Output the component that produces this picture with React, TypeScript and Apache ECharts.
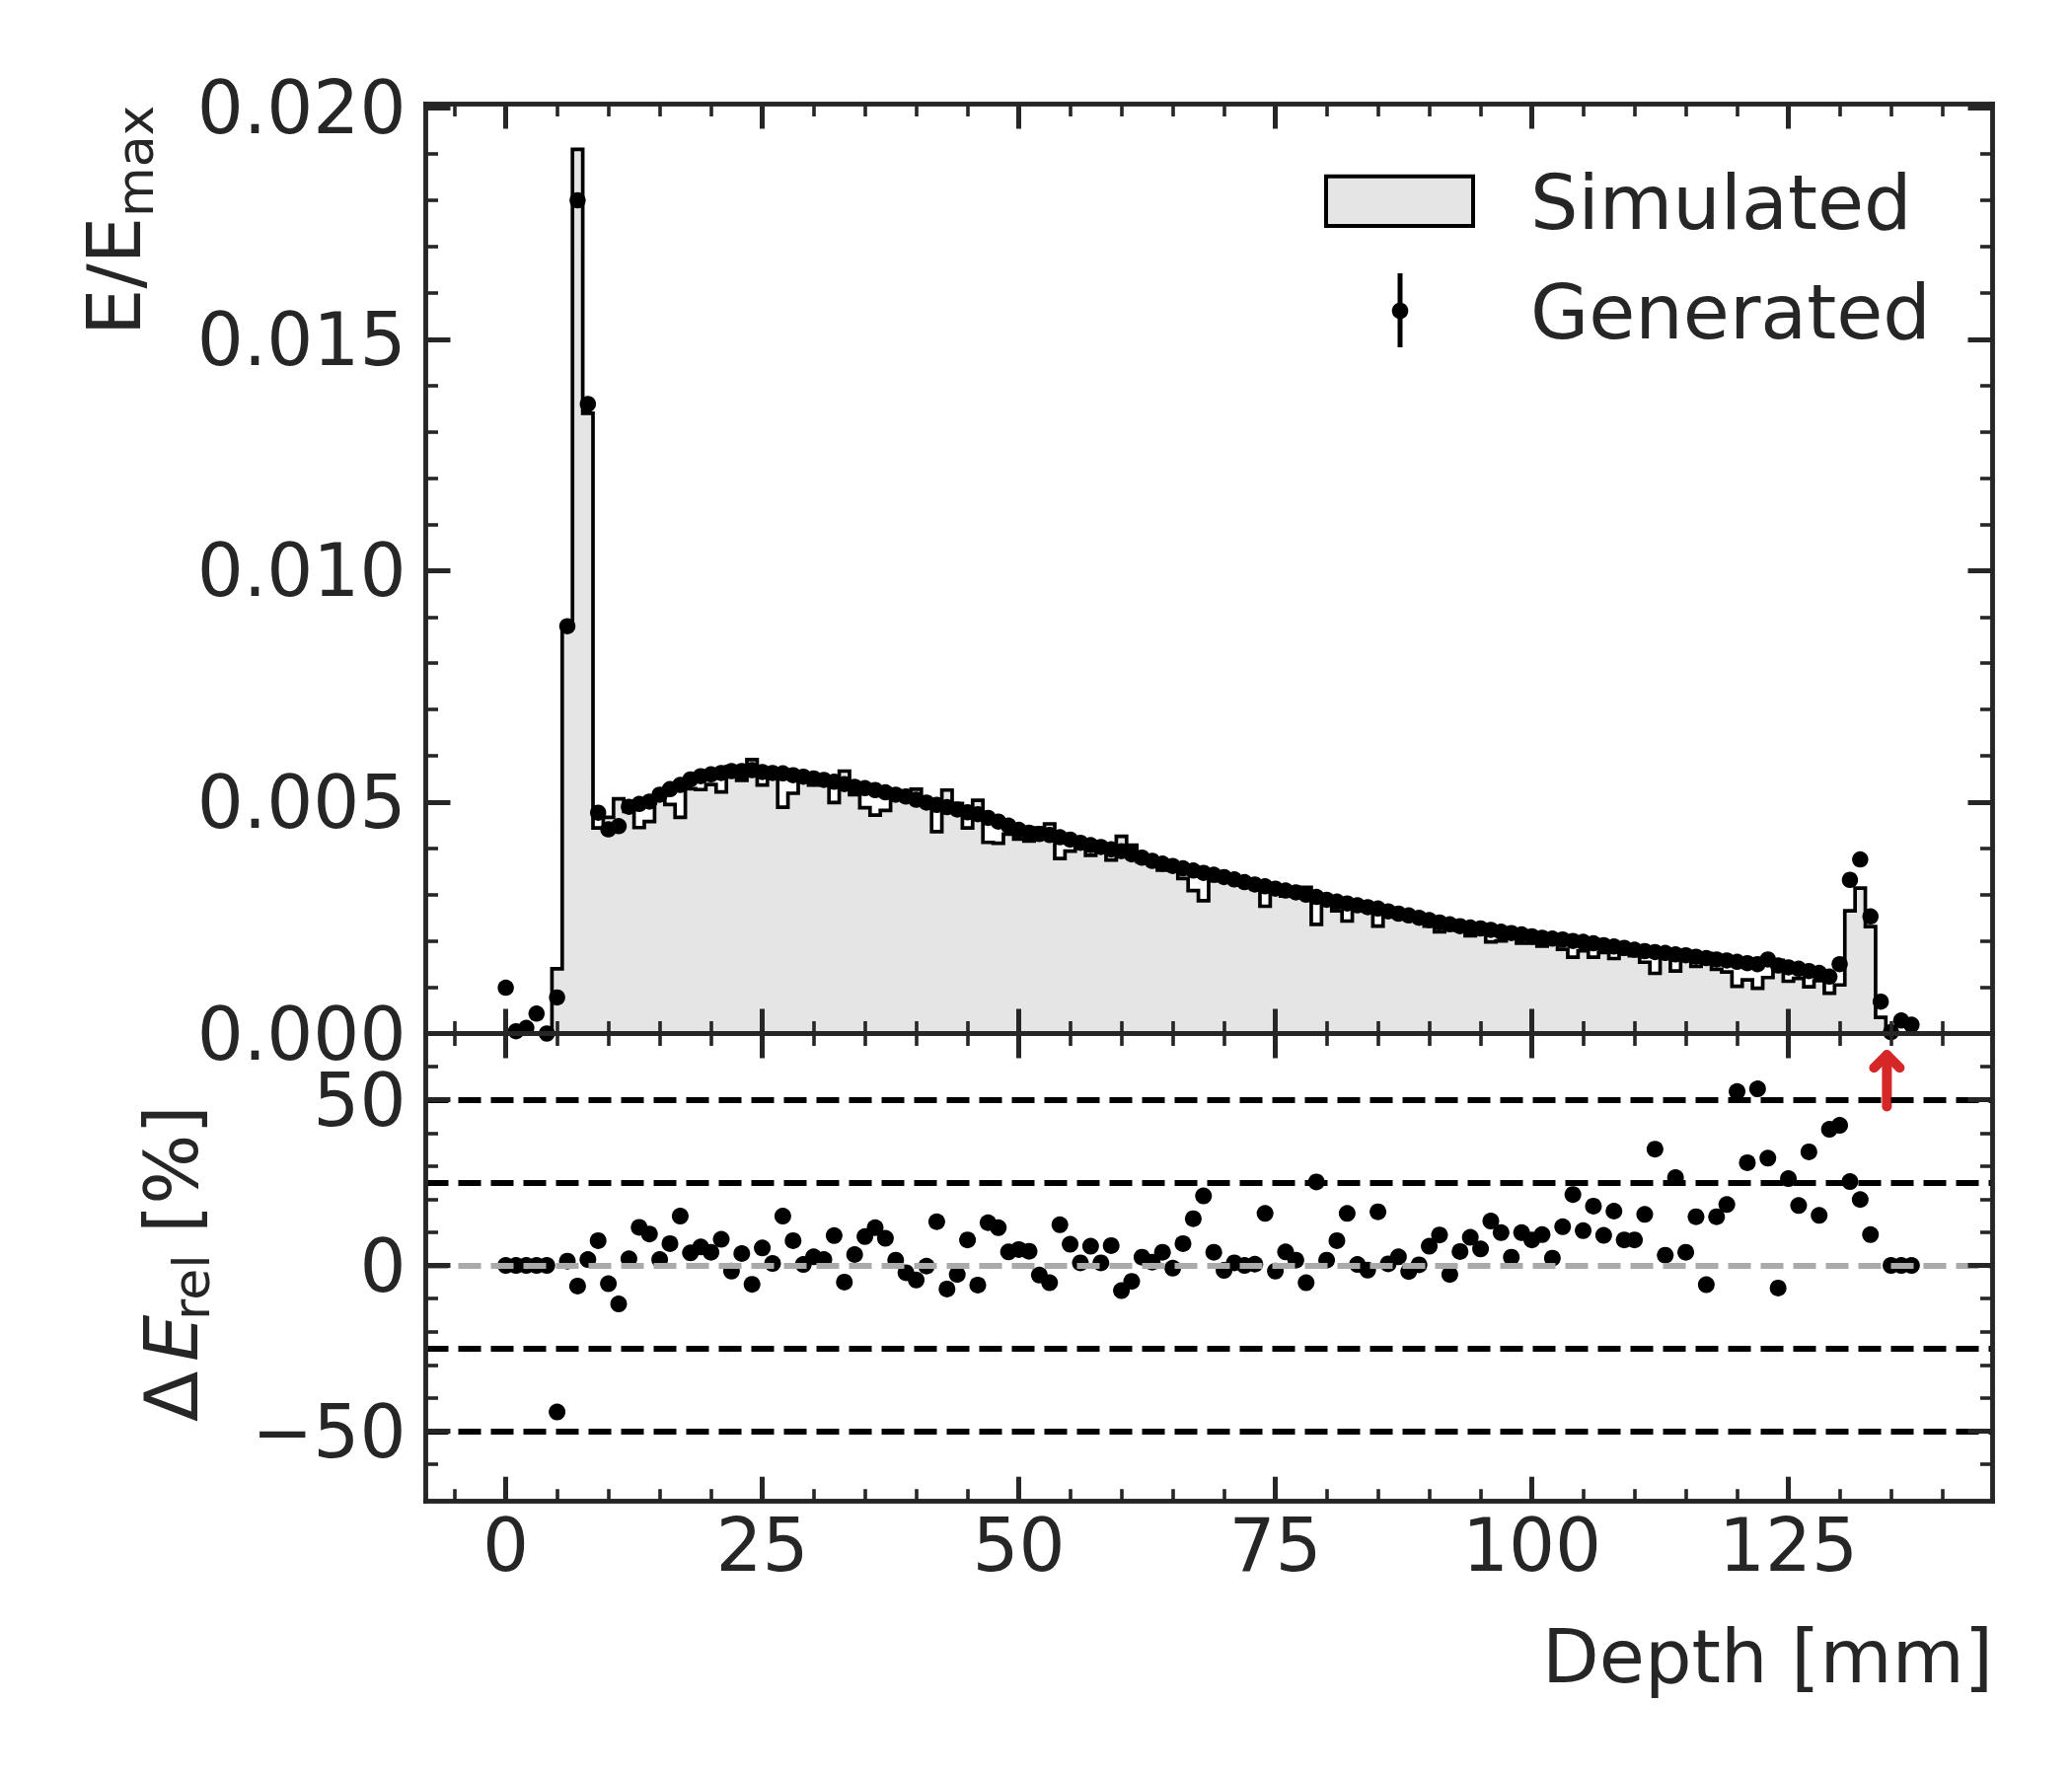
import React, { useEffect, useRef } from "react";
import * as echarts from "echarts";

// ---------- data ----------
const depthMm = [
  0, 1, 2, 3, 4, 5, 6, 7, 8, 9,
  10, 11, 12, 13, 14, 15, 16, 17, 18, 19,
  20, 21, 22, 23, 24, 25, 26, 27, 28, 29,
  30, 31, 32, 33, 34, 35, 36, 37, 38, 39,
  40, 41, 42, 43, 44, 45, 46, 47, 48, 49,
  50, 51, 52, 53, 54, 55, 56, 57, 58, 59,
  60, 61, 62, 63, 64, 65, 66, 67, 68, 69,
  70, 71, 72, 73, 74, 75, 76, 77, 78, 79,
  80, 81, 82, 83, 84, 85, 86, 87, 88, 89,
  90, 91, 92, 93, 94, 95, 96, 97, 98, 99,
  100, 101, 102, 103, 104, 105, 106, 107, 108, 109,
  110, 111, 112, 113, 114, 115, 116, 117, 118, 119,
  120, 121, 122, 123, 124, 125, 126, 127, 128, 129,
  130, 131, 132, 133, 134, 135, 136, 137,
];

const simulated = [
  0, 0, 0, 0, 0, 0.0014, 0.00877, 0.0191, 0.0134, 0.00444,
  0.00467, 0.00507, 0.0048, 0.00445, 0.00458, 0.00507, 0.00495, 0.00467, 0.00529, 0.00527,
  0.00538, 0.00522, 0.00577, 0.00547, 0.00592, 0.00537, 0.0056, 0.00489, 0.00519, 0.00553,
  0.00537, 0.00538, 0.00499, 0.00567, 0.00516, 0.00488, 0.00472, 0.00482, 0.00508, 0.00524,
  0.00528, 0.005, 0.00436, 0.00526, 0.00497, 0.00444, 0.00504, 0.00413, 0.00411, 0.00431,
  0.0042, 0.00416, 0.00444, 0.00453, 0.00378, 0.00394, 0.00409, 0.00385, 0.004, 0.00375,
  0.00426, 0.00407, 0.00371, 0.00369, 0.00353, 0.00365, 0.00335, 0.00309, 0.00287, 0.0033,
  0.00343, 0.0033, 0.00327, 0.00321, 0.00275, 0.00318, 0.00297, 0.003, 0.00316, 0.00236,
  0.00284, 0.00265, 0.00243, 0.00276, 0.00277, 0.00232, 0.00263, 0.00252, 0.0026, 0.0025,
  0.00232, 0.0022, 0.00243, 0.00223, 0.00211, 0.00216, 0.00198, 0.002, 0.00212, 0.00195,
  0.00195, 0.00189, 0.00201, 0.00182, 0.00165, 0.00179, 0.00165, 0.00175, 0.00162, 0.00172,
  0.00168, 0.00154, 0.0013, 0.00169, 0.00135, 0.00163, 0.00145, 0.00173, 0.00139, 0.00133,
  0.00102, 0.00116, 0.00098, 0.00121, 0.00158, 0.00113, 0.00119, 0.00101, 0.00114, 0.00087,
  0.00105, 0.00265, 0.00314, 0.00231, 0.00035, 0, 0, 0,
];

const generated = [
  0.00099, 0.00005, 0.00012, 0.00043, 0, 0.00078, 0.0088, 0.018, 0.0136, 0.00477,
  0.00441, 0.00448, 0.0049, 0.00496, 0.00501, 0.00516, 0.00528, 0.00537, 0.00549, 0.00556,
  0.0056, 0.00563, 0.00567, 0.00567, 0.00569, 0.00565, 0.00563, 0.00562, 0.00558, 0.00555,
  0.00551, 0.00548, 0.00544, 0.00539, 0.00533, 0.0053, 0.00526, 0.00521, 0.00516, 0.00512,
  0.00505, 0.00499, 0.00494, 0.00489, 0.00484, 0.00478, 0.00474, 0.00466, 0.00458, 0.00449,
  0.0044, 0.00434, 0.00431, 0.00429, 0.00424, 0.00419, 0.00412, 0.00407, 0.00403, 0.00398,
  0.00394, 0.00387, 0.0038, 0.00373, 0.00367, 0.00362, 0.00357, 0.00352, 0.00347, 0.00343,
  0.00338, 0.00333, 0.00327, 0.00322, 0.00318, 0.00313, 0.00309, 0.00305, 0.003, 0.00295,
  0.00289, 0.00285, 0.00281, 0.00277, 0.00273, 0.0027, 0.00264, 0.00259, 0.00255, 0.0025,
  0.00245, 0.0024, 0.00236, 0.00232, 0.00229, 0.00227, 0.00224, 0.0022, 0.00217, 0.00214,
  0.0021, 0.00207, 0.00205, 0.00203, 0.002, 0.00198, 0.00195, 0.00191, 0.00188, 0.00185,
  0.00181, 0.00178, 0.00176, 0.00174, 0.00171, 0.00169, 0.00166, 0.00163, 0.0016, 0.00158,
  0.00155, 0.00152, 0.0015, 0.0016, 0.00147, 0.00143, 0.0014, 0.00135, 0.00131, 0.00123,
  0.0015, 0.00332, 0.00376, 0.00253, 0.00069, 0.00003, 0.00028, 0.00019,
];

const residualPct = [
  0, 0, 0, 0, 0, -44.2, 1.3, -6.2, 1.8, 7.5,
  -5.5, -11.6, 2.0, 11.5, 9.5, 1.8, 6.6, 14.9, 3.8, 5.6,
  4.0, 7.9, -1.7, 3.6, -5.7, 5.3, 0.6, 14.9, 7.5, 0.3,
  2.6, 1.8, 9.0, -5.0, 3.3, 8.7, 11.4, 8.2, 1.6, -2.2,
  -4.4, -0.2, 13.2, -7.1, -2.7, 7.7, -5.9, 12.9, 11.4, 4.1,
  4.8, 4.3, -2.9, -5.2, 12.3, 6.4, 0.8, 5.8, 0.8, 6.0,
  -7.6, -4.8, 2.5, 1.0, 4.0, -0.8, 6.6, 14.1, 21.0, 4.0,
  -1.5, 0.8, 0, 0.4, 15.7, -1.7, 4.1, 1.6, -5.2, 25.2,
  1.6, 7.5, 15.7, 0.3, -1.4, 16.2, 0.5, 2.6, -1.8, 0.2,
  5.8, 9.2, -2.7, 4.2, 8.5, 5.0, 13.4, 9.9, 2.5, 9.9,
  7.7, 9.3, 2.2, 11.7, 21.4, 10.5, 17.9, 9.1, 16.4, 7.7,
  7.7, 15.4, 35.1, 3.1, 26.5, 4.0, 14.7, -5.8, 14.7, 18.4,
  52.5, 31.0, 53.3, 32.4, -6.8, 26.2, 18.1, 34.3, 15.1, 41.1,
  42.3, 25.3, 19.9, 9.3, 97, 0, 0, 0,
];

// ticks & reference levels
const xMajorTicks = [0, 25, 50, 75, 100, 125];
const xMinorTicks = [-5, 5, 10, 15, 20, 30, 35, 40, 45, 55, 60, 65, 70, 80, 85, 90, 95, 105, 110, 115, 120, 130, 135, 140];
const topMajorTicks = [0, 0.005, 0.01, 0.015, 0.02];
const topMinorTicks = [0.001, 0.002, 0.003, 0.004, 0.006, 0.007, 0.008, 0.009, 0.011, 0.012, 0.013, 0.014, 0.016, 0.017, 0.018, 0.019];
const resMajorTicks = [-50, 0, 50];
const resMinorTicks = [-60, -40, -30, -20, -10, 10, 20, 30, 40, 60];
const dashedLevels = [-50, -25, 25, 50];
const zeroLevel = 0;
const arrowSpan = [48, 63.5]; // overflow arrow, in % units
const arrowShift = 0.6; // arrow drawn slightly right of the overflow bin centre

// axis ranges
const X_MIN = -7.8;
const X_MAX = 144.9;
const TOP_MIN = 0;
const TOP_MAX = 0.02008;
const RES_MIN = -71.2;
const RES_MAX = 70;

// ---------- style ----------
const INK = "#262626";
const FONT = "DejaVu Sans";
const FS = 74;
const RED = "#d62728";

const GRID_L = 431.5;
const GRID_W = 1588;
const TOP_T = 105.5;
const TOP_H = 942;
const BOT_T = 1047.5;
const BOT_H = 474.2;

const MAJOR_LEN = 25;
const MINOR_LEN = 12.5;

function makeAxis(grid: number, position: string, min: number, max: number, ticks: number[], major: boolean, labels?: any) {
  return {
    type: "value",
    gridIndex: grid,
    position,
    min,
    max,
    z: 10,
    axisLine: { show: true, onZero: false, lineStyle: { color: INK, width: 4.5, cap: "square" } },
    axisTick: {
      show: true,
      inside: true,
      length: major ? MAJOR_LEN : MINOR_LEN,
      customValues: ticks,
      lineStyle: { color: INK, width: major ? 5 : 3.6 },
    },
    axisLabel: labels
      ? {
          show: true,
          customValues: ticks,
          fontFamily: FONT,
          fontSize: FS,
          color: INK,
          showMinLabel: true,
          showMaxLabel: true,
          ...labels,
        }
      : { show: false },
    splitLine: { show: false },
    axisPointer: { show: false },
  };
}

const fmtMinus = (v: number) => (v < 0 ? "\u2212" + Math.abs(v) : String(v));

export default function App() {
  const ref = useRef<HTMLDivElement>(null);

  useEffect(() => {
    document.body.style.margin = "0";
    const chart = echarts.init(ref.current!, null, { renderer: "svg", width: 2100, height: 1800 });

    const histLine: number[][] = [[depthMm[0] - 0.5, 0]];
    depthMm.forEach((d, i) => {
      histLine.push([d - 0.5, simulated[i]], [d + 0.5, simulated[i]]);
    });
    histLine.push([depthMm[depthMm.length - 1] + 0.5, 0]);

    const genPts = depthMm.map((d, i) => [d, generated[i]]);
    const resPts = depthMm.map((d, i) => [d, residualPct[i]]);
    const overflow = depthMm
      .map((d, i) => ({ d, r: residualPct[i] }))
      .filter((p) => p.r > RES_MAX)
      .map((p) => [p.d + arrowShift, arrowSpan[0], arrowSpan[1]]);

    const xAxes = [
      makeAxis(0, "bottom", X_MIN, X_MAX, xMajorTicks, true),
      makeAxis(0, "bottom", X_MIN, X_MAX, xMinorTicks, false),
      makeAxis(0, "top", X_MIN, X_MAX, xMajorTicks, true),
      makeAxis(0, "top", X_MIN, X_MAX, xMinorTicks, false),
      makeAxis(1, "bottom", X_MIN, X_MAX, xMajorTicks, true, { margin: 7, formatter: (v: number) => String(v) }),
      makeAxis(1, "bottom", X_MIN, X_MAX, xMinorTicks, false),
      makeAxis(1, "top", X_MIN, X_MAX, xMajorTicks, true),
      makeAxis(1, "top", X_MIN, X_MAX, xMinorTicks, false),
    ];
    const yAxes = [
      makeAxis(0, "left", TOP_MIN, TOP_MAX, topMajorTicks, true, { margin: 20, lineHeight: 56, formatter: (v: number) => v.toFixed(3) }),
      makeAxis(0, "left", TOP_MIN, TOP_MAX, topMinorTicks, false),
      makeAxis(0, "right", TOP_MIN, TOP_MAX, topMajorTicks, true),
      makeAxis(0, "right", TOP_MIN, TOP_MAX, topMinorTicks, false),
      makeAxis(1, "left", RES_MIN, RES_MAX, resMajorTicks, true, { margin: 20, lineHeight: 56, formatter: fmtMinus }),
      makeAxis(1, "left", RES_MIN, RES_MAX, resMinorTicks, false),
      makeAxis(1, "right", RES_MIN, RES_MAX, resMajorTicks, true),
      makeAxis(1, "right", RES_MIN, RES_MAX, resMinorTicks, false),
    ];

    const dash = [23, 10];

    const rotText = (text: string, x: number, y: number, size: number, extra: any = {}) => ({
      type: "text",
      x,
      y,
      rotation: Math.PI / 2,
      silent: true,
      style: {
        text,
        fontFamily: FONT,
        fontSize: size,
        fill: INK,
        align: "left",
        verticalAlign: "middle",
        ...extra,
      },
    });

    const option: any = {
      animation: false,
      backgroundColor: "#ffffff",
      textStyle: { fontFamily: FONT },
      grid: [
        { left: GRID_L, top: TOP_T, width: GRID_W, height: TOP_H, containLabel: false, outerBoundsMode: "none" },
        { left: GRID_L, top: BOT_T, width: GRID_W, height: BOT_H, containLabel: false, outerBoundsMode: "none" },
      ],
      xAxis: xAxes,
      yAxis: yAxes,
      series: [
        {
          name: "Simulated",
          type: "line",
          xAxisIndex: 0,
          yAxisIndex: 0,
          data: histLine,
          showSymbol: false,
          symbol: "none",
          z: 2,
          clip: true,
          lineStyle: { color: "#000000", width: 3.7, join: "miter" },
          areaStyle: { color: "#e5e5e5", opacity: 1 },
        },
        {
          name: "Generated",
          type: "scatter",
          xAxisIndex: 0,
          yAxisIndex: 0,
          data: genPts,
          symbol: "circle",
          symbolSize: 16.5,
          itemStyle: { color: "#000000", opacity: 1 },
          z: 3,
          clip: false,
        },
        {
          name: "levels",
          type: "line",
          xAxisIndex: 4,
          yAxisIndex: 4,
          data: [],
          z: 1,
          silent: true,
          markLine: {
            silent: true,
            symbol: ["none", "none"],
            label: { show: false },
            emphasis: { disabled: true },
            data: [
              { yAxis: zeroLevel, lineStyle: { color: "#aaaaaa", width: 6, type: dash } },
              ...dashedLevels.map((v) => ({ yAxis: v, lineStyle: { color: "#000000", width: 6, type: dash } })),
            ],
          },
        },
        {
          name: "Residual",
          type: "scatter",
          xAxisIndex: 4,
          yAxisIndex: 4,
          data: resPts,
          symbol: "circle",
          symbolSize: 17,
          itemStyle: { color: "#000000", opacity: 1 },
          z: 3,
          clip: true,
        },
        {
          name: "overflow",
          type: "custom",
          xAxisIndex: 4,
          yAxisIndex: 4,
          z: 4,
          clip: false,
          data: overflow,
          renderItem: (_params: any, api: any) => {
            const base = api.coord([api.value(0), api.value(1)]);
            const tip = api.coord([api.value(0), api.value(2)]);
            const h = 13;
            return {
              type: "group",
              children: [
                {
                  type: "line",
                  shape: { x1: base[0], y1: base[1], x2: tip[0], y2: tip[1] },
                  style: { stroke: RED, lineWidth: 10, lineCap: "round" },
                },
                {
                  type: "polyline",
                  shape: { points: [[tip[0] - h, tip[1] + h], [tip[0], tip[1]], [tip[0] + h, tip[1] + h]] },
                  style: { stroke: RED, fill: "none", lineWidth: 10, lineCap: "round", lineJoin: "round" },
                },
              ],
            };
          },
        },
      ],
      graphic: [
        // top y label: E/E_max
        rotText("E/E", 115.5, 340, 75),
        rotText("max", 137, 220, 52),
        // bottom y label: ΔE_rel [%]
        rotText("\u0394", 174, 1441, 75),
        rotText("E", 174, 1380, 75, { fontStyle: "italic" }),
        rotText("rel", 193.7, 1338, 52),
        rotText("[%]", 174, 1250, 75),
        // x label
        {
          type: "text",
          x: 2020,
          y: 1678.5,
          silent: true,
          style: { text: "Depth [mm]", fontFamily: FONT, fontSize: 75, fill: INK, align: "right", verticalAlign: "middle" },
        },
        // legend
        {
          type: "rect",
          silent: true,
          shape: { x: 1344, y: 178.7, width: 149, height: 50.3 },
          style: { fill: "#e5e5e5", stroke: "#000000", lineWidth: 4 },
        },
        {
          type: "text",
          x: 1551,
          y: 205,
          silent: true,
          style: { text: "Simulated", fontFamily: FONT, fontSize: 76.5, fill: INK, align: "left", verticalAlign: "middle" },
        },
        {
          type: "line",
          silent: true,
          shape: { x1: 1419, y1: 277, x2: 1419, y2: 352 },
          style: { stroke: "#000000", lineWidth: 5 },
        },
        {
          type: "circle",
          silent: true,
          shape: { cx: 1419, cy: 315, r: 8.3 },
          style: { fill: "#000000" },
        },
        {
          type: "text",
          x: 1551,
          y: 316,
          silent: true,
          style: { text: "Generated", fontFamily: FONT, fontSize: 76.5, fill: INK, align: "left", verticalAlign: "middle" },
        },
      ],
    };

    chart.setOption(option);
    return () => chart.dispose();
  }, []);

  return <div ref={ref} style={{ width: 2100, height: 1800 }} />;
}
